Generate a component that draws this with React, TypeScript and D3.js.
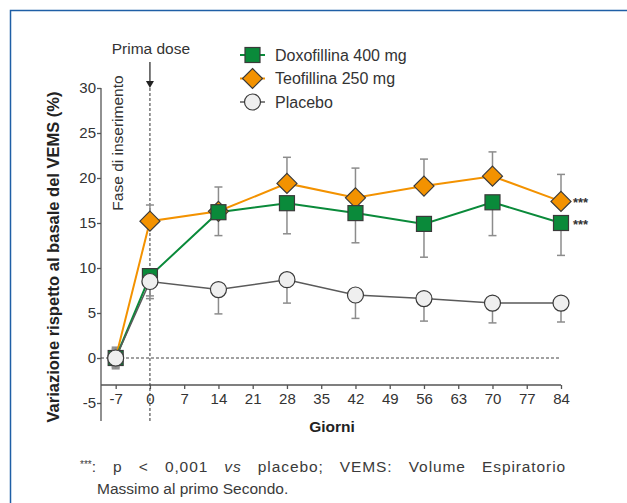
import { useEffect, useRef } from "react";
import * as d3 from "d3";

// days of measurement
const days = [-7, 0, 14, 28, 42, 56, 70, 84];
const xTicks = [-7, 0, 7, 14, 21, 28, 35, 42, 49, 56, 63, 70, 77, 84];
const yTicks = [-5, 0, 5, 10, 15, 20, 25, 30];

// mean change from baseline (%) and error bar sizes
const doxofillina = [0, 9.1, 16.2, 17.2, 16.1, 14.9, 17.3, 15.0];
const doxofillinaErr = [1.0, 2.2, 2.6, 3.4, 3.3, 3.7, 3.7, 3.6];
const teofillina = [0, 15.2, 16.3, 19.4, 17.8, 19.1, 20.2, 17.4];
const teofillinaErr = [1.0, 1.8, 2.7, 2.9, 3.3, 3.0, 2.7, 3.0];
const placebo = [0, 8.5, 7.6, 8.7, 7.0, 6.6, 6.1, 6.1];
const placeboErr = [1.2, 1.9, 2.7, 2.6, 2.6, 2.5, 2.2, 2.1];

const legendLabels = ["Doxofillina 400 mg", "Teofillina 250 mg", "Placebo"];

const GREEN = "#0a8a3a";
const ORANGE = "#f39200";
const GRAY_LINE = "#5a5a5a";
const ERR = "#8c8c8c";
const STROKE = "#3a3a3a";
const FONT = "'Liberation Sans', Arial, sans-serif";

type Series = {
  name: string;
  values: number[];
  err: number[];
  dir: number; // +1 error bar up, -1 down
  color: string;
  marker: "square" | "diamond" | "circle";
};

export default function App() {
  const ref = useRef<SVGSVGElement | null>(null);

  useEffect(() => {
    if (!ref.current) return;
    const svg = d3.select(ref.current);
    svg.selectAll("*").remove();

    const x = d3.scaleLinear().domain([-10, 84]).range([101, 561]);
    const y = d3.scaleLinear().domain([-7, 30]).range([421, 88]);

    const series: Series[] = [
      { name: legendLabels[1], values: teofillina, err: teofillinaErr, dir: 1, color: ORANGE, marker: "diamond" },
      { name: legendLabels[0], values: doxofillina, err: doxofillinaErr, dir: -1, color: GREEN, marker: "square" },
      { name: legendLabels[2], values: placebo, err: placeboErr, dir: -1, color: GRAY_LINE, marker: "circle" },
    ];

    // frame
    svg
      .append("rect")
      .attr("x", 10.5)
      .attr("y", 10.5)
      .attr("width", 640)
      .attr("height", 520)
      .attr("fill", "none")
      .attr("stroke", "#1f5fa6")
      .attr("stroke-width", 1.5);

    // y axis
    const yAxis = svg
      .append("g")
      .attr("transform", `translate(${x(-10)},0)`)
      .call(
        d3
          .axisLeft(y)
          .tickValues(yTicks)
          .tickSize(4)
          .tickSizeOuter(0)
          .tickFormat((d) => String(d))
      );
    yAxis.select(".domain").attr("d", `M0,${y(30)}V${y(-7)}`).attr("stroke", "#555").attr("stroke-width", 1.3);
    yAxis.selectAll(".tick line").attr("stroke", "#555").attr("stroke-width", 1.3);
    yAxis
      .selectAll(".tick text")
      .attr("font-family", FONT)
      .attr("font-size", 15)
      .attr("fill", "#333")
      .attr("x", -5);

    // x axis, placed at -3
    const xAxis = svg
      .append("g")
      .attr("transform", `translate(0,${y(-3)})`)
      .call(
        d3
          .axisBottom(x)
          .tickValues(xTicks)
          .tickSize(4)
          .tickSizeOuter(0)
          .tickFormat((d) => String(d))
      );
    xAxis.select(".domain").attr("d", `M${x(-10)},0H${x(84)}`).attr("stroke", "#555").attr("stroke-width", 1.3);
    xAxis.selectAll(".tick line").attr("stroke", "#555").attr("stroke-width", 1.3);
    xAxis
      .selectAll(".tick text")
      .attr("font-family", FONT)
      .attr("font-size", 15)
      .attr("fill", "#333")
      .attr("y", 8);

    // zero line and first dose line
    svg
      .append("line")
      .attr("x1", x(-10))
      .attr("x2", x(84))
      .attr("y1", y(0))
      .attr("y2", y(0))
      .attr("stroke", "#444")
      .attr("stroke-width", 1.1)
      .attr("stroke-dasharray", "3,2");
    svg
      .append("line")
      .attr("x1", x(0))
      .attr("x2", x(0))
      .attr("y1", y(30))
      .attr("y2", y(-7))
      .attr("stroke", "#444")
      .attr("stroke-width", 1.1)
      .attr("stroke-dasharray", "3,2");

    // arrow "Prima dose"
    svg
      .append("line")
      .attr("x1", x(0))
      .attr("x2", x(0))
      .attr("y1", 62)
      .attr("y2", y(30) - 6)
      .attr("stroke", "#222")
      .attr("stroke-width", 1.2);
    svg
      .append("path")
      .attr("d", `M${x(0) - 4},${y(30) - 7}L${x(0) + 4},${y(30) - 7}L${x(0)},${y(30)}Z`)
      .attr("fill", "#222");
    svg
      .append("text")
      .attr("x", x(0) + 1)
      .attr("y", 54)
      .attr("text-anchor", "middle")
      .attr("font-family", FONT)
      .attr("font-size", 15.5)
      .attr("fill", "#333")
      .text("Prima dose");

    svg
      .append("text")
      .attr("transform", `translate(123,143) rotate(-90)`)
      .attr("text-anchor", "middle")
      .attr("font-family", FONT)
      .attr("font-size", 15.5)
      .attr("fill", "#333")
      .text("Fase di inserimento");

    // axis titles
    svg
      .append("text")
      .attr("transform", `translate(59,257) rotate(-90)`)
      .attr("text-anchor", "middle")
      .attr("font-family", FONT)
      .attr("font-size", 16.5)
      .attr("font-weight", "bold")
      .attr("fill", "#222")
      .text("Variazione rispetto al basale del VEMS (%)");
    svg
      .append("text")
      .attr("x", 332)
      .attr("y", 432)
      .attr("text-anchor", "middle")
      .attr("font-family", FONT)
      .attr("font-size", 15.5)
      .attr("font-weight", "bold")
      .attr("fill", "#222")
      .text("Giorni");

    const drawMarker = (
      g: d3.Selection<SVGGElement, unknown, null, undefined>,
      s: Series,
      cx: number,
      cy: number
    ) => {
      if (s.marker === "square") {
        g.append("rect")
          .attr("x", cx - 7.5)
          .attr("y", cy - 7.5)
          .attr("width", 15)
          .attr("height", 15)
          .attr("fill", GREEN)
          .attr("stroke", STROKE)
          .attr("stroke-width", 1.2);
      } else if (s.marker === "diamond") {
        const r = 10;
        g.append("path")
          .attr("d", `M${cx},${cy - r}L${cx + r},${cy}L${cx},${cy + r}L${cx - r},${cy}Z`)
          .attr("fill", ORANGE)
          .attr("stroke", STROKE)
          .attr("stroke-width", 1.2);
      } else {
        g.append("circle")
          .attr("cx", cx)
          .attr("cy", cy)
          .attr("r", 8)
          .attr("fill", "#efefef")
          .attr("stroke", STROKE)
          .attr("stroke-width", 1.2);
      }
    };

    const line = d3
      .line<number>()
      .x((_, i) => x(days[i]))
      .y((d) => y(d));

    // error bars
    const errG = svg.append("g");
    series.forEach((s) => {
      s.values.forEach((v, i) => {
        const dirs = i === 0 ? [1, -1] : [s.dir];
        dirs.forEach((dir) => {
          const end = y(v + dir * s.err[i]);
          errG
            .append("line")
            .attr("x1", x(days[i]))
            .attr("x2", x(days[i]))
            .attr("y1", y(v))
            .attr("y2", end)
            .attr("stroke", ERR)
            .attr("stroke-width", 1.5);
          errG
            .append("line")
            .attr("x1", x(days[i]) - 4)
            .attr("x2", x(days[i]) + 4)
            .attr("y1", end)
            .attr("y2", end)
            .attr("stroke", ERR)
            .attr("stroke-width", 1.5);
        });
      });
    });

    // lines
    series.forEach((s) => {
      svg
        .append("path")
        .datum(s.values)
        .attr("d", line)
        .attr("fill", "none")
        .attr("stroke", s.color)
        .attr("stroke-width", s.marker === "circle" ? 1.5 : 2);
    });

    // markers
    series.forEach((s) => {
      const g = svg.append("g");
      s.values.forEach((v, i) => {
        if (s.marker === "diamond" && i === 0) return; // hidden behind the others
        drawMarker(g, s, x(days[i]), y(v));
      });
    });

    // significance stars
    [teofillina, doxofillina].forEach((vals) => {
      svg
        .append("text")
        .attr("x", x(84) + 12)
        .attr("y", y(vals[vals.length - 1]) + 6)
        .attr("font-family", FONT)
        .attr("font-size", 13)
        .attr("font-weight", "bold")
        .attr("fill", "#333")
        .text("***");
    });

    // legend
    const legendOrder = [series[1], series[0], series[2]];
    legendOrder.forEach((s, i) => {
      const ly = 55 + i * 23.5;
      const g = svg.append("g");
      g.append("line")
        .attr("x1", 240)
        .attr("x2", 265)
        .attr("y1", ly)
        .attr("y2", ly)
        .attr("stroke", s.color)
        .attr("stroke-width", s.marker === "circle" ? 1.5 : 2);
      drawMarker(g, s, 252.5, ly);
      g.append("text")
        .attr("x", 275)
        .attr("y", ly + 5.5)
        .attr("font-family", FONT)
        .attr("font-size", 16)
        .attr("fill", "#333")
        .text(s.name);
    });

    // footnote, first line justified: a little letter spacing, the rest between words
    const footFont = "'Liberation Sans', Arial, sans-serif";
    const foot = svg
      .append("text")
      .attr("x", 80)
      .attr("y", 472)
      .attr("font-family", footFont)
      .attr("font-size", 15.5)
      .attr("letter-spacing", 0.9)
      .attr("fill", "#3a3a3a");
    foot.append("tspan").attr("font-size", 10).attr("dy", -4).attr("letter-spacing", 0).text("***");
    foot.append("tspan").attr("dy", 4).text(": p < 0,001 ");
    foot.append("tspan").attr("font-style", "italic").text("vs");
    foot.append("tspan").text(" placebo; VEMS: Volume Espiratorio");
    const node = foot.node() as SVGTextElement;
    const natural = node.getComputedTextLength();
    const spaces = 8;
    const extra = Math.max(0, (486 - natural) / spaces);
    foot.attr("word-spacing", extra);

    svg
      .append("text")
      .attr("x", 97)
      .attr("y", 494)
      .attr("font-family", footFont)
      .attr("font-size", 15.5)
      .attr("fill", "#3a3a3a")
      .text("Massimo al primo Secondo.");
  }, []);

  return (
    <svg
      ref={ref}
      width={627}
      height={503}
      style={{ position: "absolute", left: 0, top: 0, background: "#fff" }}
    />
  );
}
